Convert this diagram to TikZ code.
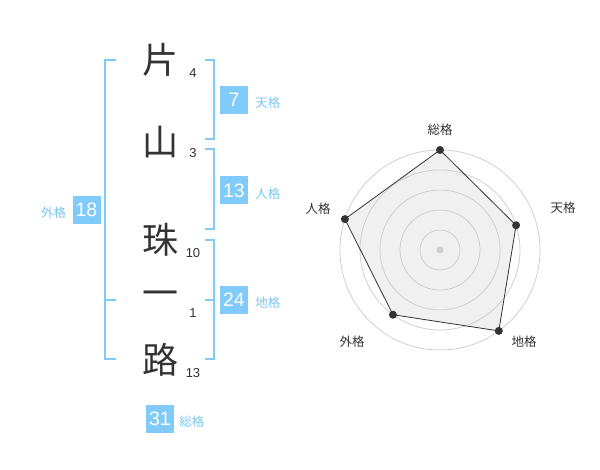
\documentclass[tikz,border=0pt]{standalone}
\usepackage{fontspec}
\setmainfont{Liberation Sans}
\newfontfamily\jpfont{Noto Sans CJK JP}
\usepackage{xcolor}
\usepackage{tikz}
\usetikzlibrary{positioning}
\definecolor{kakublue}{HTML}{80CBF9}
\definecolor{kakutext}{HTML}{7CC6F0}
\definecolor{inkgray}{HTML}{333333}
\definecolor{ringgray}{HTML}{CFCFCF}
\definecolor{chartfill}{HTML}{F0F0F0}

\begin{document}
\begin{tikzpicture}[x=1pt,y=-1pt]
            \tikzset{kanji/.style = {font=\jpfont\fontsize{36}{36}\selectfont, text=inkgray, inner sep=0pt}}
            \tikzset{strokes/.style = {font=\fontsize{13}{13}\selectfont, text=inkgray, inner sep=0pt}}
            \tikzset{kaku/.style = {fill=kakublue, text=white, font=\fontsize{19.5}{19.5}\selectfont, minimum size=28pt, inner sep=0pt}}
            \tikzset{kakuname/.style = {font=\jpfont\fontsize{12.5}{12.5}\selectfont, text=kakutext, inner sep=0pt}}
            \tikzset{bracket/.style = {draw=kakublue, line width=2pt}}
            \tikzset{axis/.style = {font=\jpfont\fontsize{12.5}{12.5}\selectfont, text=inkgray, inner sep=0pt}}
            \tikzset{ring/.style = {draw=ringgray, line width=0.8pt}}
            \tikzset{dot/.style = {circle, fill=inkgray, inner sep=0pt, minimum size=8pt}}

            \useasboundingbox (0,0) rectangle (600,470);

            % name
            \node[kanji] (k1) at (160,60) {片};
            \node[kanji] (k2) at (160,142) {山};
            \node[kanji] (k3) at (160,240) {珠};
            \node[kanji] (k4) at (160,299) {一};
            \node[kanji] (k5) at (160,360) {路};
            \foreach \k/\y/\n in {1/73/4, 2/153/3, 3/253/10, 4/313/1, 5/373/13}
            {
              \node[strokes] (s\k) at (193,\y) {\n};
            }

            % brackets
            \draw[bracket] (205,60) -- (214,60) -- (214,139) -- (205,139);
            \draw[bracket] (205,149) -- (214,149) -- (214,229) -- (205,229);
            \draw[bracket] (205,240) -- (214,240) -- (214,359) -- (205,359);
            \draw[bracket] (205,300) -- (214,300);
            \draw[bracket] (116,60) -- (105,60) -- (105,359) -- (116,359);
            \draw[bracket] (105,300) -- (116,300);

            % kaku
            \node[kaku] (ten) at (234,100) {7};
            \node[kakuname, right=7pt of ten, yshift=-3pt] (tenname) {天格};
            \node[kaku] (jin) at (234,190.5) {13};
            \node[kakuname, right=7pt of jin, yshift=-3pt] (jinname) {人格};
            \node[kaku] (chi) at (234,300) {24};
            \node[kakuname, right=7pt of chi, yshift=-3pt] (chiname) {地格};
            \node[kaku] (gai) at (86.5,210) {18};
            \node[kakuname, left=6pt of gai, yshift=-3pt] (gainame) {外格};
            \node[kaku] (sou) at (160,419) {31};
            \node[kakuname, right=5pt of sou, yshift=-3pt] (souname) {総格};

            % chart
            \foreach \n/\a/\v in {sou/90/100, ten/18/80, chi/-54/100, gai/-126/80, jin/162/100}
            {
              \coordinate (v\n) at ({440+\v*cos(\a)},{250-\v*sin(\a)});
            }
            \fill[chartfill] (vsou) -- (vten) -- (vchi) -- (vgai) -- (vjin) -- cycle;
            \foreach \r in {20,40,60,80,100}
            {
              \draw[ring] (440,250) circle[radius=\r pt];
            }
            \node[circle, fill=ringgray, inner sep=0pt, minimum size=7pt] (center) at (440,250) {};
            \draw[inkgray, line width=0.8pt] (vsou) -- (vten) -- (vchi) -- (vgai) -- (vjin) -- cycle;
            \foreach \n in {sou,ten,chi,gai,jin} {\node[dot] (d\n) at (v\n) {};}

            \node[axis] (asou) at (440,130) {総格};
            \node[axis] (aten) at (563,208) {天格};
            \node[axis] (achi) at (524,342) {地格};
            \node[axis] (agai) at (352,342) {外格};
            \node[axis] (ajin) at (318,209) {人格};

          \end{tikzpicture}
\end{document}
